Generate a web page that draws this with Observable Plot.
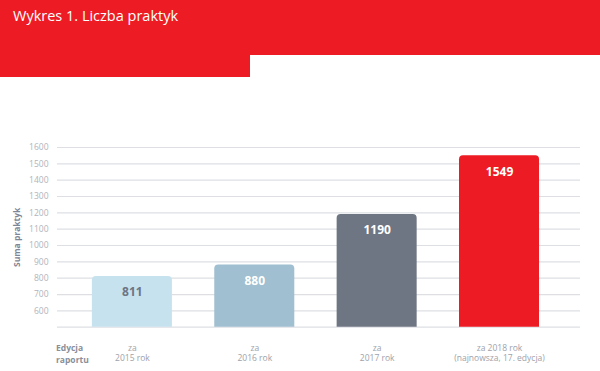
<!DOCTYPE html>
<html><head><meta charset="utf-8">
<script src="https://cdn.jsdelivr.net/npm/d3@7"></script>
<script src="https://cdn.jsdelivr.net/npm/@observablehq/plot@0.6"></script>
<style>
body{margin:0;background:#fff;font-family:"Open Sans",sans-serif;}
#wrap{position:relative;width:600px;height:371px;overflow:hidden;}
.red{position:absolute;background:#ed1c24;}
#title{position:absolute;left:13px;top:6px;color:#fff;font-size:14.5px;}
#ed{position:absolute;left:56px;top:342px;font-size:8.5px;font-weight:700;color:#8a8f99;line-height:11.5px;}
#chart{position:absolute;left:0;top:0;}
</style></head>
<body><div id="wrap">
<div class="red" style="left:0;top:0;width:600px;height:55px"></div>
<div class="red" style="left:0;top:55px;width:250px;height:22px"></div>
<div id="title">Wykres 1. Liczba praktyk</div>
<div id="chart"></div>
<div id="ed">Edycja<br>raportu</div>
</div>
<script>
const categories = ["2015", "2016", "2017", "2018"];
const values = [811, 880, 1190, 1549];
const colors = ["#c7e2ef", "#a0bfd0", "#6e7583", "#ed1c24"];
const labelColors = ["#6e7583", "#ffffff", "#ffffff", "#ffffff"];
const tickLabels = ["za\n2015 rok", "za\n2016 rok", "za\n2017 rok", "za 2018 rok\n(najnowsza, 17. edycja)"];
const yTicks = [600, 700, 800, 900, 1000, 1100, 1200, 1300, 1400, 1500, 1600];
const gridLines = [500, 600, 700, 800, 900, 1000, 1100, 1200, 1300, 1400, 1500, 1600];

const data = categories.map((c, i) => ({cat: c, value: values[i], color: colors[i], lc: labelColors[i]}));

const chart = Plot.plot({
  width: 600, height: 371,
  marginTop: 147, marginBottom: 44.3, marginLeft: 57, marginRight: 20,
  style: {fontFamily: "Open Sans, sans-serif", background: "transparent", overflow: "visible"},
  x: {domain: categories, paddingInner: 0.346, paddingOuter: 0.31, align: 0.46, round: false, label: null},
  y: {domain: [500, 1600], label: null},
  marks: [
    Plot.ruleY(gridLines, {stroke: "#dedfe3", strokeWidth: 1.2}),
    Plot.barY(data, {x: "cat", y1: 500, y2: "value", fill: "color", rx: 4, insetBottom: -8, clip: true}),
    Plot.text(data, {x: "cat", y: "value", text: d => String(d.value), fill: "lc", dy: 16, fontSize: 12, fontWeight: 700}),
    Plot.axisY({ticks: yTicks, tickSize: 0, tickPadding: 9, fontSize: 8.5, color: "#b0b4bb", label: null, tickFormat: d => String(d)}),
    Plot.axisX({tickSize: 0, tickPadding: 16, fontSize: 8.5, color: "#9ea2aa", label: null, lineHeight: 1.25,
      tickFormat: d => tickLabels[categories.indexOf(d)]}),
    Plot.text(["Suma praktyk"], {frameAnchor: "left", textAnchor: "middle", dx: -40, rotate: -90, fontSize: 8.5, fontWeight: 700, fill: "#7d8696"})
  ]
});
document.getElementById("chart").appendChild(chart);
</script>
</body></html>
